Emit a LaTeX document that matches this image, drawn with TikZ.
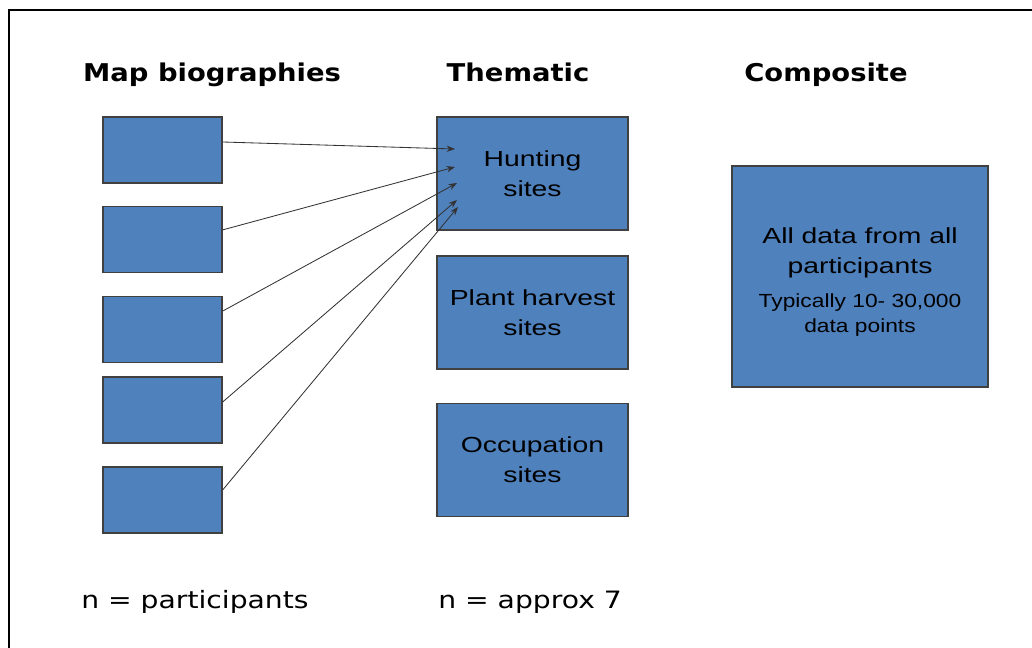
\documentclass[tikz,border=0pt]{standalone}
\usepackage{fontspec}
\setmainfont{Liberation Sans}
\newfontfamily\headfont[FakeStretch=1.12]{DejaVu Sans}
\newfontfamily\notefont[FakeStretch=1.18]{DejaVu Sans}
\newfontfamily\boxfont[FakeStretch=1.3]{Liberation Sans}
\newfontfamily\smallboxfont[FakeStretch=1.2]{Liberation Sans}
\usetikzlibrary{arrows.meta}
\definecolor{sitesblue}{RGB}{79,129,189}
\tikzset{
  mapbox/.style={draw=black!75,fill=sitesblue,line width=0.9pt,minimum width=2.975cm,minimum height=1.65cm,inner sep=0pt},
  themebox/.style={mapbox,minimum width=4.775cm,minimum height=2.825cm,align=center,font=\boxfont\fontsize{15.5}{21.3}\selectfont},
  head/.style={inner sep=0pt,anchor=base,font=\headfont\bfseries\fontsize{17.4}{20}\selectfont},
  note/.style={inner sep=0pt,anchor=base west,font=\notefont\fontsize{17}{20}\selectfont},
  feed/.style={black!80,line width=0.6pt,-{Stealth[length=6pt,width=4.5pt]}}
}
\begin{document}
\begin{tikzpicture}[x=0.025cm,y=-0.025cm]
\useasboundingbox (0,0) rectangle (1032,648);
% frame
\draw[line width=1.6pt] (9,648) -- (9,10) -- (1032,10);
% column heads
\node[head] (hmap) at (212,82) {Map biographies};
\node[head] (htheme) at (518,82) {Thematic};
\node[head] (hcomp) at (826,82) {Composite};
% map biographies
\node[mapbox] (m1) at (162.5,150) {};
\node[mapbox] (m2) at (162.5,239.5) {};
\node[mapbox] (m3) at (162.5,329.5) {};
\node[mapbox] (m4) at (162.5,410) {};
\node[mapbox] (m5) at (162.5,500) {};
% thematic
\node[themebox] (hunt) at (532.5,173.5) {Hunting\\sites};
\node[themebox] (plant) at (532.5,312.5) {Plant harvest\\sites};
\node[themebox] (occup) at (532.5,460) {Occupation\\sites};
% composite
\node[themebox,minimum width=6.4cm,minimum height=5.525cm] (comp) at (860,276.5) {};
\node[align=center,inner sep=0pt,font=\boxfont\fontsize{15.5}{21.3}\selectfont] (comptext) at (860,282)
  {All data from all\\participants\\[3pt]\smallboxfont\fontsize{13.5}{14}\selectfont Typically 10- 30,000\\[-4pt]\smallboxfont\fontsize{13.5}{14}\selectfont data points};
% arrows into hunting
\coordinate (t1) at (455,149);
\coordinate (t2) at (455,167);
\coordinate (t3) at (457,183);
\coordinate (t4) at (457,200);
\coordinate (t5) at (458,207);
\draw[feed] ([yshift=0.2cm]m1.east) -- (t1);
\draw[feed] ([yshift=0.24cm]m2.east) -- (t2);
\draw[feed] ([yshift=0.46cm]m3.east) -- (t3);
\draw[feed] ([yshift=0.2cm]m4.east) -- (t4);
\draw[feed] ([yshift=0.25cm]m5.east) -- (t5);
% counts
\node[note] (nmap) at (81,608) {n = participants};
\node[note] (ntheme) at (438,608) {n = approx 7};
\end{tikzpicture}
\end{document}
